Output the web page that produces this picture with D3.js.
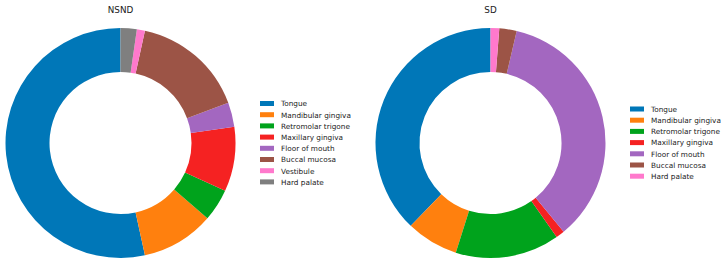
<!DOCTYPE html>
<html>
<head>
<meta charset="utf-8">
<script src="https://cdn.jsdelivr.net/npm/d3@7"></script>
<style>
  body { margin: 0; background: #fff; }
  text { font-family: "DejaVu Sans", sans-serif; fill: #222; }
</style>
</head>
<body>
<svg id="chart" width="726" height="265"></svg>
<script>
// site counts per group
var nsndSites = ["Tongue", "Mandibular gingiva", "Retromolar trigone", "Maxillary gingiva",
                 "Floor of mouth", "Buccal mucosa", "Vestibule", "Hard palate"];
var nsndCounts = [47, 9, 4, 8, 3, 14, 1, 2];

var sdSites = ["Tongue", "Mandibular gingiva", "Retromolar trigone", "Maxillary gingiva",
               "Floor of mouth", "Buccal mucosa", "Hard palate"];
var sdCounts = [31, 6, 12, 1, 29, 2, 1];

// colour cycle, assigned by slice order (like matplotlib)
var palette = ["#0077b8", "#ff800e", "#00a31c", "#f52222",
               "#a367c0", "#9c5446", "#ff79cc", "#7f7f7f"];

var svg = d3.select("#chart");
var outerR = 115;
var innerR = 71;

function drawDonut(title, sites, counts, cx, cy, legendX, legendY) {
    var data = sites.map(function (s, i) { return { site: s, value: counts[i] }; });
    var color = d3.scaleOrdinal().domain(sites).range(palette);

    // start at top, go counterclockwise
    var pie = d3.pie()
        .sort(null)
        .value(function (d) { return d.value; })
        .startAngle(0)
        .endAngle(-2 * Math.PI);

    var arc = d3.arc().innerRadius(innerR).outerRadius(outerR);

    var g = svg.append("g").attr("transform", "translate(" + cx + "," + cy + ")");
    g.selectAll("path")
        .data(pie(data))
        .enter()
        .append("path")
        .attr("d", arc)
        .attr("fill", function (d) { return color(d.data.site); });

    svg.append("text")
        .attr("x", cx)
        .attr("y", 13)
        .attr("text-anchor", "middle")
        .style("font-size", "8.8px")
        .text(title);

    // legend
    var y = d3.scaleBand().domain(sites).range([legendY, legendY + sites.length * 11.2]);
    var row = svg.append("g").selectAll("g").data(sites).enter().append("g")
        .attr("transform", function (d) { return "translate(" + legendX + "," + y(d) + ")"; });
    row.append("rect")
        .attr("x", 0).attr("y", 0)
        .attr("width", 14).attr("height", 5)
        .attr("fill", function (d) { return color(d); });
    row.append("text")
        .attr("x", 21)
        .attr("y", 5.3)
        .style("font-size", "7.3px")
        .text(function (d) { return d; });
}

drawDonut("NSND", nsndSites, nsndCounts, 120.5, 143, 260, 101);
drawDonut("SD", sdSites, sdCounts, 490.5, 143, 630, 106.5);
</script>
</body>
</html>
